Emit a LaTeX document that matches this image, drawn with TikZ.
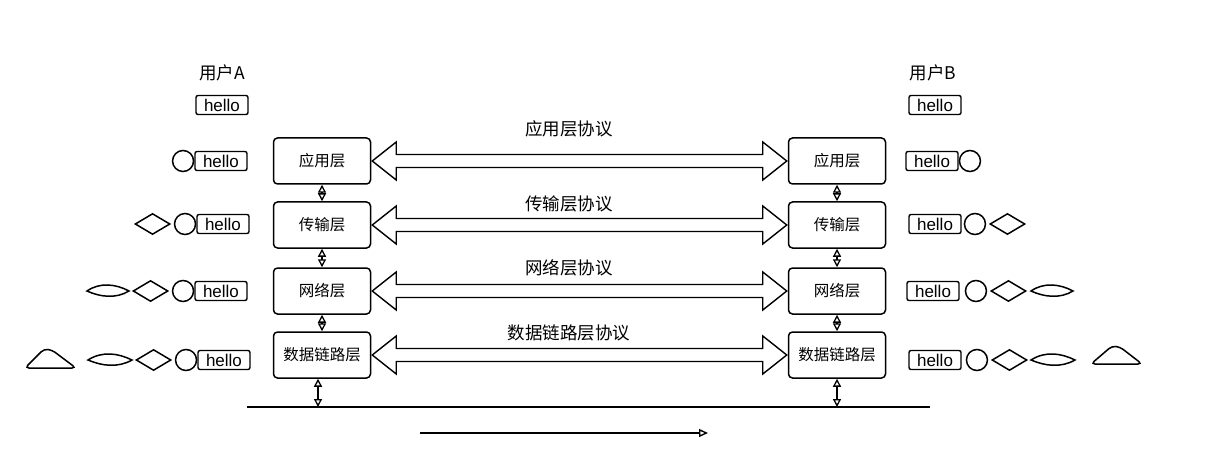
\documentclass[tikz,border=0pt]{standalone}
\usepackage{fontspec}
\setmainfont{Noto Sans CJK SC}
\newfontfamily\latinfont{Liberation Sans}
\usepackage{tikz}
\usetikzlibrary{
  arrows.meta,
  shapes.geometric,
  positioning,
  calc
}
\tikzset{
  layer/.style={
    draw, rounded corners=4pt, line width=1.5pt, minimum width=97pt,
    minimum height=46pt, inner sep=1pt, font=\fontsize{15.5}{18}\selectfont
  },
  hellobox/.style={
    draw, rounded corners=2pt, line width=1.4pt, minimum width=52pt,
    minimum height=19pt, inner sep=0pt, font=\latinfont\fontsize{17}{19}\selectfont
  },
  who/.style={font=\fontsize{17.5}{20}\selectfont, inner sep=1pt},
  proto/.style={font=\fontsize{17.5}{20}\selectfont, inner sep=1pt},
  ring/.style={draw, circle, line width=1.5pt, minimum size=21pt, inner sep=0pt},
  gem/.style={draw, diamond, line width=1.5pt, minimum width=35pt, minimum height=21pt, inner sep=0pt},
  sketch/.style={line width=1.5pt},
  bigarrow/.style={draw, line width=1.4pt, line join=miter},
  updown/.style={{Triangle[open,length=8pt,width=8pt]}-{Triangle[open,length=8pt,width=8pt]}, line width=1.3pt},
  bus/.style={line width=1.6pt},
  flow/.style={-{Triangle[open,length=9pt,width=8pt]}, line width=1.4pt}
}

\begin{document}
\begin{tikzpicture}[x=1pt,y=-1pt]
  \useasboundingbox (0,0) rectangle (1215,465);
  % users and messages
  \node[who] (ua) at (222,73) {用户A};
  \node[who] (ub) at (933,73) {用户B};
  \node[hellobox] (ha) at (222,105) {hello};
  \node[hellobox] (hb) at (935,105) {hello};
  % protocol stacks
  \foreach \i/\y/\ly/\t/\p in {1/161/129/应用层/应用层协议, 2/225/204/传输层/传输层协议,
                              3/291/268/网络层/网络层协议, 4/355/333/数据链路层/数据链路层协议}{
    \node[layer] (a\i) at (322,\y) {\t};
    \node[layer] (b\i) at (837,\y) {\t};
    \node[proto] (p\i) at (569,\ly) {\p};
    \draw[bigarrow] ($(a\i.east)+(1,0)$) -- ++(24,-19) -- ++(0,12.5) -- ($(b\i.west)+(-25,-6.5)$)
      -- ++(0,-12.5) -- ($(b\i.west)+(-1,0)$) -- ++(-24,19) -- ++(0,-12.5)
      -- ($(a\i.east)+(25,6.5)$) -- ++(0,12.5) -- cycle;
  }
  \foreach \s/\e in {1/2, 2/3, 3/4}{
    \draw[updown] (a\s) -- (a\e);
    \draw[updown] (b\s) -- (b\e);
  }
  % physical medium
  \coordinate (busl) at (247,407);
  \coordinate (busr) at (930,407);
  \draw[bus] (busl) -- (busr);
  \draw[updown] ([xshift=-4pt]a4.south) -- ([xshift=-4pt]a4.south |- busl);
  \draw[updown] (b4.south) -- (b4.south |- busl);
  \coordinate (ts) at (420,433);
  \coordinate (te) at (708,433);
  \draw[flow] (ts) -- (te);
  % sender side: headers added
  \node[hellobox] (la1) at (221,161) {hello};
  \node[ring, left=0pt of la1] (lr1) {};
  \node[hellobox] (la2) at (223,224) {hello};
  \node[ring, left=0pt of la2] (lr2) {};
  \node[gem, left=3pt of lr2] (lg2) {};
  \node[hellobox] (la3) at (221,291) {hello};
  \node[ring, left=0pt of la3] (lr3) {};
  \node[gem, left=3pt of lr3] (lg3) {};
  \draw[sketch, shift={(108,291)}] (-21,0) .. controls (-8,-9) and (8,-7) .. (21,0)
    .. controls (8,8) and (-8,6) .. cycle;
  \node[hellobox] (la4) at (224,360) {hello};
  \node[ring, left=0pt of la4] (lr4) {};
  \node[gem, left=3pt of lr4] (lg4) {};
  \draw[sketch, shift={(110,360)}] (-22,0) .. controls (-8,-9) and (8,-7) .. (22,0)
    .. controls (8,8) and (-8,6) .. cycle;
  \draw[sketch, rounded corners=4pt, shift={(50,359)}] (-25,9) -- (-6,-10) -- (2,-9) -- (26,9) -- cycle;
  % receiver side
  \node[hellobox] (rb1) at (932,161) {hello};
  \node[ring, right=0pt of rb1] (rr1) {};
  \node[hellobox] (rb2) at (935,224) {hello};
  \node[ring, right=2pt of rb2] (rr2) {};
  \node[gem, right=3pt of rr2] (rg2) {};
  \node[hellobox] (rb3) at (933,291) {hello};
  \node[ring, right=5pt of rb3] (rr3) {};
  \node[gem, right=3pt of rr3] (rg3) {};
  \draw[sketch, shift={(1052,291)}] (-21,0) .. controls (-8,-9) and (8,-7) .. (21,0)
    .. controls (8,8) and (-8,6) .. cycle;
  \node[hellobox] (rb4) at (935,360) {hello};
  \node[ring, right=4pt of rb4] (rr4) {};
  \node[gem, right=3pt of rr4] (rg4) {};
  \draw[sketch, shift={(1053,360)}] (-22,0) .. controls (-8,-9) and (8,-7) .. (22,0)
    .. controls (8,8) and (-8,6) .. cycle;
  \draw[sketch, rounded corners=4pt, shift={(1116,356)}] (-25,8) -- (-4,-10) -- (4,-9) -- (26,8) -- cycle;
\end{tikzpicture}
\end{document}
